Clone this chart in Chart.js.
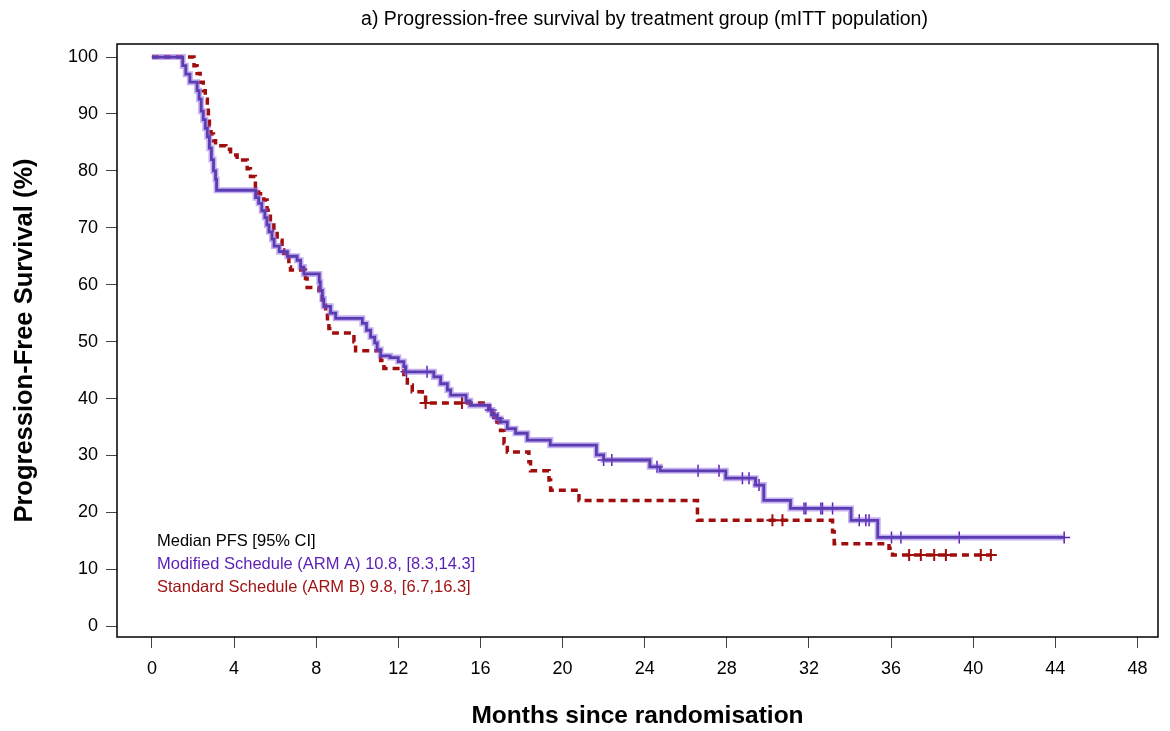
<!DOCTYPE html>
<html>
<head>
  <title>Progression-free survival</title>
  <script src="https://cdn.jsdelivr.net/npm/chart.js"></script>
  <style>
    body { margin: 0; background: #fff; }
  </style>
</head>
<body>
  <canvas id="chart" width="1170" height="731"></canvas>

  <script>
    // Kaplan-Meier steps: time (months), survival after the step (%)
    var armATime = [0, 1.5, 1.65, 1.85, 2.2, 2.3, 2.4, 2.5, 2.6, 2.7, 2.8, 2.9, 3.0, 3.1, 3.15,
      5.05, 5.2, 5.35, 5.5, 5.6, 5.7, 5.85, 5.95, 6.2, 6.6, 7.07, 7.24, 7.4,
      8.15, 8.2, 8.3, 8.37, 8.7, 8.95, 10.25, 10.45, 10.65, 10.85, 10.97, 11.14, 11.6, 12.0, 12.27, 12.35,
      13.73, 14.06, 14.39, 14.55, 15.3, 15.5, 16.4, 16.58, 16.8, 16.98, 17.31, 17.71, 18.28, 19.4,
      21.65, 22.0, 24.25, 24.75, 27.95, 29.4, 29.8, 31.1, 34.05, 35.35, 44.43];
    var armASurv = [100, 98.5, 97.0, 95.6, 94.1, 92.6, 90.5, 89.0, 87.5, 86.0, 84.0, 82.0, 80.0, 78.5, 76.6,
      75.3, 74.3, 73.0, 71.8, 70.5, 69.3, 68.0, 66.8, 65.8, 65.0, 64.3, 63.1, 61.9,
      60.5, 59.0, 57.5, 56.2, 55.0, 54.1, 53.2, 52.0, 50.8, 49.8, 48.6, 47.5, 47.2, 46.5, 45.6, 44.7,
      43.8, 42.6, 41.5, 40.6, 39.6, 38.8, 38.0, 37.1, 36.5, 35.9, 34.7, 33.9, 32.7, 31.8,
      30.1, 29.2, 28.0, 27.3, 26.0, 24.8, 22.1, 20.7, 18.6, 15.6, 15.6];

    var armBTime = [0, 2.05, 2.2, 2.35, 2.5, 2.6, 2.7, 2.75, 2.8, 2.88, 3.0, 3.1, 3.6, 3.83, 4.15,
      4.64, 4.8, 5.04, 5.2, 5.45, 5.61, 5.77, 5.94, 6.1, 6.34, 6.42, 6.67, 6.75,
      7.48, 7.56, 8.13, 8.29, 8.46, 8.55, 8.62, 8.86, 9.84, 9.92, 11.14, 11.3,
      12.27, 12.44, 12.68, 13.17, 13.33, 16.41, 16.66, 16.98, 17.15, 17.31, 18.36, 18.44,
      19.34, 19.42, 20.8, 26.57, 33.15, 33.23, 35.9, 36.07, 40.86];
    var armBSurv = [100, 98.5, 97.1, 95.6, 94.1, 92.6, 91.2, 89.5, 88.0, 86.5, 85.3, 84.4, 83.8, 82.8, 81.9,
      80.4, 79.0, 77.2, 76.0, 74.9, 73.1, 71.4, 69.6, 67.8, 66.1, 65.5, 63.1, 62.6,
      61.1, 59.5, 59.0, 57.3, 55.0, 53.5, 52.3, 51.5, 50.0, 48.4, 46.7, 45.3,
      43.8, 42.4, 41.2, 40.6, 39.2, 37.4, 35.9, 34.4, 32.1, 30.6, 28.9, 27.3,
      25.7, 23.9, 22.1, 18.6, 16.6, 14.5, 13.7, 12.5, 12.5];

    // censored observations (+ marks)
    var armACensTime = [12.4, 13.4, 16.5, 16.85, 22.0, 22.4, 24.6, 26.6, 27.62, 28.76, 29.08, 29.57,
      31.76, 31.85, 32.58, 32.66, 33.15, 34.45, 34.77, 34.93, 36.02, 36.48, 39.32, 44.43];
    var armACensSurv = [44.7, 44.7, 38.0, 36.5, 29.2, 29.2, 28.0, 27.3, 27.3, 26.0, 26.0, 24.8,
      20.7, 20.7, 20.7, 20.7, 20.7, 18.6, 18.6, 18.6, 15.6, 15.6, 15.6, 15.6];
    var armBCensTime = [13.33, 15.1, 30.22, 30.71, 36.88, 37.45, 38.1, 38.67, 40.37, 40.86];
    var armBCensSurv = [39.2, 39.2, 18.6, 18.6, 12.5, 12.5, 12.5, 12.5, 12.5, 12.5];

    var xTicks = [0, 4, 8, 12, 16, 20, 24, 28, 32, 36, 40, 44, 48];
    var yTicks = [0, 10, 20, 30, 40, 50, 60, 70, 80, 90, 100];

    var titleText = 'a) Progression-free survival by treatment group (mITT population)';
    var legendLines = ['Median PFS [95% CI]',
      'Modified Schedule (ARM A) 10.8, [8.3,14.3]',
      'Standard Schedule (ARM B) 9.8, [6.7,16.3]'];
    var legendColors = ['#000000', '#5a1db5', '#a01414'];

    function pts(xs, ys) {
      return xs.map(function (x, i) { return { x: x, y: ys[i] }; });
    }

    var font = '"Liberation Sans", Arial, Helvetica, sans-serif';

    var extras = {
      id: 'extras',
      afterDraw: function (c) {
        var ctx = c.ctx, a = c.chartArea;
        ctx.save();
        // frame
        ctx.strokeStyle = '#000';
        ctx.lineWidth = 1.5;
        ctx.strokeRect(a.left, a.top, a.right - a.left, a.bottom - a.top);
        // title
        ctx.fillStyle = '#000';
        ctx.font = '19.5px ' + font;
        ctx.textAlign = 'center';
        ctx.textBaseline = 'middle';
        ctx.fillText(titleText, (a.left + a.right) / 2 + 7, 20);
        // median PFS text
        ctx.font = '16.5px ' + font;
        ctx.textAlign = 'left';
        for (var i = 0; i < legendLines.length; i++) {
          ctx.fillStyle = legendColors[i];
          ctx.fillText(legendLines[i], a.left + 40, a.top + 497 + i * 23);
        }
        ctx.restore();
      }
    };

    var ctx = document.getElementById('chart').getContext('2d');
    var chart = new Chart(ctx, {
      type: 'line',
      data: {
        datasets: [
          {
            label: 'ARM A halo',
            data: pts(armATime, armASurv),
            stepped: 'before',
            borderColor: 'rgba(140, 95, 225, 0.5)',
            borderWidth: 6,
            pointRadius: 0,
            fill: false
          },
          {
            label: 'Modified Schedule (ARM A)',
            data: pts(armATime, armASurv),
            stepped: 'before',
            borderColor: '#2b1a82',
            borderWidth: 2.8,
            pointRadius: 0,
            fill: false
          },
          {
            label: 'Standard Schedule (ARM B)',
            data: pts(armBTime, armBSurv),
            stepped: 'before',
            borderColor: '#a00d0d',
            borderWidth: 3.5,
            borderDash: [7, 5],
            pointRadius: 0,
            fill: false
          },
          {
            label: 'ARM A censored',
            data: pts(armACensTime, armACensSurv),
            showLine: false,
            pointStyle: 'cross',
            pointRadius: 6,
            pointBorderWidth: 1.5,
            pointBorderColor: '#5a1db5'
          },
          {
            label: 'ARM B censored',
            data: pts(armBCensTime, armBCensSurv),
            showLine: false,
            pointStyle: 'cross',
            pointRadius: 6,
            pointBorderWidth: 2,
            pointBorderColor: '#a00d0d'
          }
        ]
      },
      options: {
        responsive: false,
        animation: false,
        devicePixelRatio: 1,
        layout: { padding: { top: 44, right: 12, left: 0, bottom: 0 } },
        plugins: {
          legend: { display: false },
          tooltip: { enabled: false }
        },
        scales: {
          x: {
            type: 'linear',
            min: -1.7,
            max: 49,
            afterBuildTicks: function (s) { s.ticks = xTicks.map(function (v) { return { value: v }; }); },
            afterFit: function (s) { s.height = 94; },
            grid: { drawOnChartArea: false, drawTicks: true, tickLength: 11, color: '#444', lineWidth: 1 },
            border: { display: false },
            ticks: { color: '#000', font: { family: font, size: 18 }, padding: 10, maxRotation: 0 },
            title: {
              display: true,
              text: 'Months since randomisation',
              color: '#000',
              font: { family: font, size: 24.5, weight: 'bold' },
              padding: { top: 0, bottom: 0 }
            }
          },
          y: {
            min: -1.9,
            max: 102.3,
            afterBuildTicks: function (s) { s.ticks = yTicks.map(function (v) { return { value: v }; }); },
            afterFit: function (s) { s.width = 117; },
            grid: { drawOnChartArea: false, drawTicks: true, tickLength: 11, color: '#444', lineWidth: 1 },
            border: { display: false },
            ticks: { color: '#000', font: { family: font, size: 18 }, padding: 8 },
            title: {
              display: true,
              text: 'Progression-Free Survival (%)',
              color: '#000',
              font: { family: font, size: 25.5, weight: 'bold' },
              padding: { top: 10, bottom: 0 }
            }
          }
        }
      },
      plugins: [extras]
    });
  </script>
</body>
</html>
